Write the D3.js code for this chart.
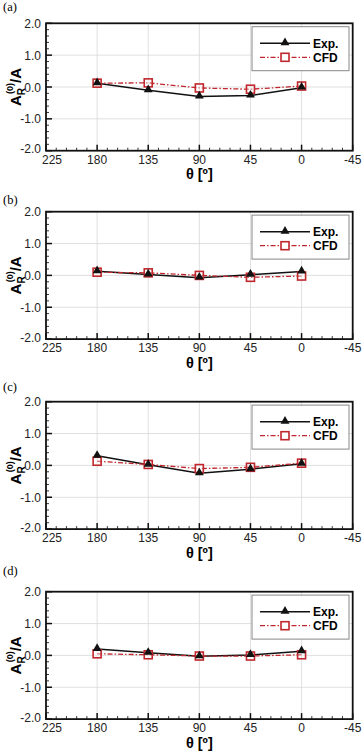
<!DOCTYPE html>
<html><head><meta charset="utf-8">
<script src="https://cdn.jsdelivr.net/npm/d3@7"></script>
<style>body{margin:0;background:#fff}svg{display:block}</style>
</head><body>
<svg id="c" width="364" height="751"></svg>
<script>
const angles = [180, 135, 90, 45, 0];
const panelLabels = ["(a)", "(b)", "(c)", "(d)"];
const expA = [0.12, -0.10, -0.30, -0.27, -0.02];
const cfdA = [0.12, 0.13, -0.03, -0.07, 0.03];
const expB = [0.13, 0.03, -0.07, 0.02, 0.12];
const cfdB = [0.10, 0.08, 0.00, -0.06, -0.02];
const expC = [0.30, 0.02, -0.25, -0.12, 0.05];
const cfdC = [0.13, 0.03, -0.10, -0.06, 0.07];
const expD = [0.20, 0.08, -0.03, 0.01, 0.13];
const cfdD = [0.05, 0.02, -0.02, -0.02, 0.02];
const xTicks = [225, 180, 135, 90, 45, 0, -45];
const yTicks = [2.0, 1.0, 0.0, -1.0, -2.0];
const seriesNames = ["Exp.", "CFD"];

const expAll = [expA, expB, expC, expD];
const cfdAll = [cfdA, cfdB, cfdC, cfdD];
const tops = [23.3, 211.7, 401.7, 591.7];
const labelY = [11, 203.5, 391, 574.5];
const red = "#c0272d";
const sans = "Liberation Sans, Arial, sans-serif";

const svg = d3.select("#c");
const L = 46, R = 352.7, H = 127.4;

tops.forEach((top, i) => {
  const g = svg.append("g");
  const x = d3.scaleLinear().domain([225, -45]).range([L, R]);
  const y = d3.scaleLinear().domain([-2, 2]).range([top + H, top]);

  g.append("text").attr("x", 3).attr("y", labelY[i])
    .attr("font-family", "Liberation Serif, Times New Roman, serif")
    .attr("font-size", 12.5).text(panelLabels[i]);

  // grid
  g.selectAll(".gx").data([180, 135, 90, 45, 0]).join("line")
    .attr("x1", d => x(d)).attr("x2", d => x(d)).attr("y1", top).attr("y2", top + H)
    .attr("stroke", "#d8d8d8").attr("stroke-width", 0.8);
  g.selectAll(".gy").data([1, 0, -1]).join("line")
    .attr("y1", d => y(d)).attr("y2", d => y(d)).attr("x1", L).attr("x2", R)
    .attr("stroke", "#d8d8d8").attr("stroke-width", 0.8);

  // minor ticks
  const xMinor = d3.range(225, -45, -9).filter(v => v % 45 !== 0);
  g.selectAll(".mx").data(xMinor).join("line")
    .attr("x1", d => x(d)).attr("x2", d => x(d)).attr("y1", top + H).attr("y2", top + H - 3)
    .attr("stroke", "#222").attr("stroke-width", 0.9);
  const yMinor = d3.range(-2, 2.001, 0.2).filter(v => Math.abs(v - Math.round(v)) > 0.01);
  g.selectAll(".my").data(yMinor).join("line")
    .attr("y1", d => y(d)).attr("y2", d => y(d)).attr("x1", L).attr("x2", L + 3)
    .attr("stroke", "#222").attr("stroke-width", 0.9);
  // major ticks
  g.selectAll(".Mx").data(xTicks).join("line")
    .attr("x1", d => x(d)).attr("x2", d => x(d)).attr("y1", top + H).attr("y2", top + H - 6)
    .attr("stroke", "#111").attr("stroke-width", 1.5);
  g.selectAll(".My").data(yTicks).join("line")
    .attr("y1", d => y(d)).attr("y2", d => y(d)).attr("x1", L).attr("x2", L + 6)
    .attr("stroke", "#111").attr("stroke-width", 1.5);

  // tick labels
  g.selectAll(".tx").data(xTicks).join("text")
    .attr("x", d => d === 225 ? x(d) - 4 : x(d)).attr("y", top + H + 13)
    .attr("text-anchor", d => d === 225 ? "start" : "middle").attr("font-family", sans)
    .attr("font-size", 12).attr("fill", "#222").text(d => d);
  g.selectAll(".ty").data(yTicks).join("text")
    .attr("x", L - 5).attr("y", d => d === -2 ? y(d) + 2.5 : y(d) + 4.5)
    .attr("text-anchor", "end").attr("font-family", sans)
    .attr("font-size", 12).attr("fill", "#222").text(d => d.toFixed(1));

  // axis titles
  g.append("text").attr("x", (L + R) / 2).attr("y", top + H + 28.5)
    .attr("text-anchor", "middle").attr("font-family", sans)
    .attr("font-weight", "bold").attr("font-size", 14.5).text("θ [º]");
  const yt = g.append("text")
    .attr("transform", `translate(21,${top + H / 2}) rotate(-90)`)
    .attr("text-anchor", "middle").attr("font-family", sans)
    .attr("font-weight", "bold").attr("font-size", 15);
  yt.append("tspan").text("A");
  yt.append("tspan").attr("font-size", 10).attr("dy", 4).text("R");
  yt.append("tspan").attr("font-size", 9).attr("dx", -6).attr("dy", -12).text("(0)");
  yt.append("tspan").attr("dy", 8).text("/A");

  // frame
  g.append("rect").attr("x", L).attr("y", top).attr("width", R - L).attr("height", H)
    .attr("fill", "none").attr("stroke", "#111").attr("stroke-width", 1.8);

  // legend
  const lx = 252, ly = top + 3.4;
  g.append("rect").attr("x", lx).attr("y", ly).attr("width", 97).attr("height", 44)
    .attr("fill", "#fff").attr("stroke", "#888").attr("stroke-width", 1);
  g.append("line").attr("x1", 260).attr("x2", 310).attr("y1", ly + 16.6).attr("y2", ly + 16.6)
    .attr("stroke", "#111").attr("stroke-width", 1.5);
  g.append("path").attr("d", d3.symbol(d3.symbolTriangle, 34)())
    .attr("transform", `translate(285,${ly + 16})`).attr("fill", "#111");
  g.append("line").attr("x1", 260).attr("x2", 310).attr("y1", ly + 30.6).attr("y2", ly + 30.6)
    .attr("stroke", red).attr("stroke-width", 1.3).attr("stroke-dasharray", "5,2,1.5,2");
  g.append("rect").attr("x", 281).attr("y", ly + 26.6).attr("width", 8).attr("height", 8)
    .attr("fill", "#fff").attr("stroke", red).attr("stroke-width", 1.6);
  g.append("text").attr("x", 313).attr("y", ly + 21).attr("font-family", sans)
    .attr("font-weight", "bold").attr("font-size", 12).text(seriesNames[0]);
  g.append("text").attr("x", 313).attr("y", ly + 35).attr("font-family", sans)
    .attr("font-weight", "bold").attr("font-size", 12).text(seriesNames[1]);

  const line = d3.line().x((d, j) => x(angles[j])).y(d => y(d));
  const ed = expAll[i], cd = cfdAll[i];
  g.append("path").attr("d", line(ed)).attr("fill", "none").attr("stroke", "#111").attr("stroke-width", 1.5);
  g.append("path").attr("d", line(cd)).attr("fill", "none").attr("stroke", red)
    .attr("stroke-width", 1.3).attr("stroke-dasharray", "5,2,1.5,2");
  g.selectAll(".sq").data(cd).join("rect")
    .attr("x", (d, j) => x(angles[j]) - 4).attr("y", d => y(d) - 4)
    .attr("width", 8).attr("height", 8).attr("fill", "rgba(255,255,255,0.35)")
    .attr("stroke", red).attr("stroke-width", 1.6);
  g.selectAll(".tr").data(ed).join("path")
    .attr("d", d3.symbol(d3.symbolTriangle, 34)())
    .attr("transform", (d, j) => `translate(${x(angles[j])},${y(d) - 0.6})`).attr("fill", "#111");
});
</script>
</body></html>
